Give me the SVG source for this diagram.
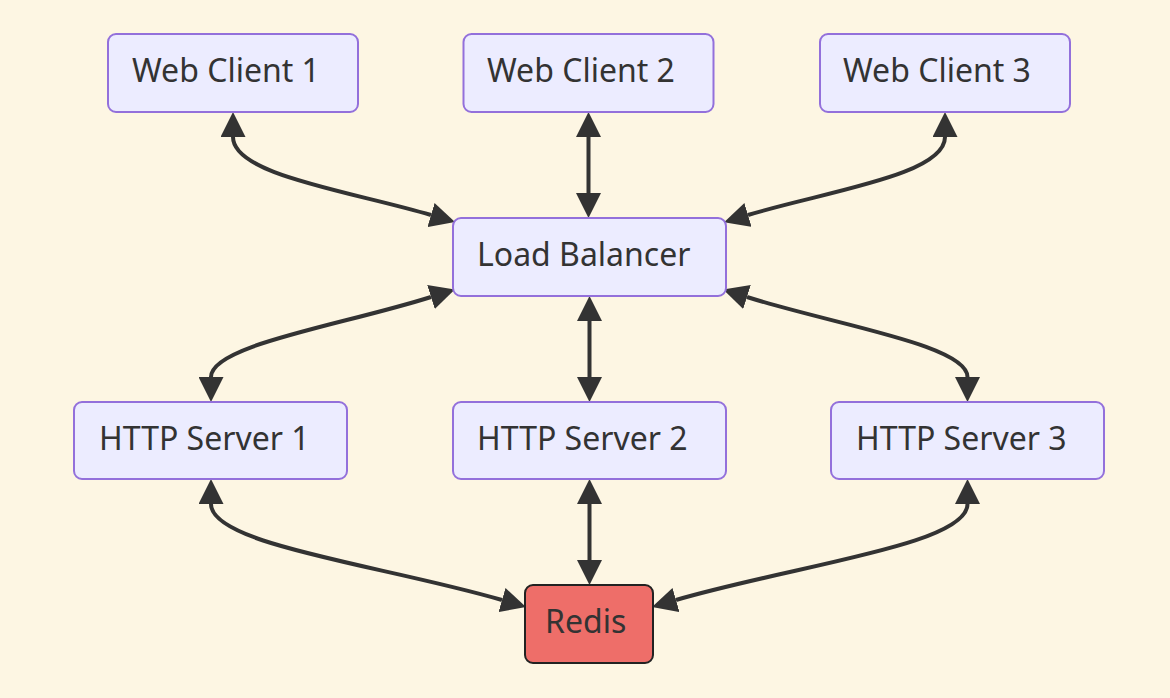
<svg xmlns="http://www.w3.org/2000/svg" width="1170" height="698" viewBox="0 0 1170 698">
<style>
.node rect{fill:#ECECFF;stroke:#9370DB;stroke-width:2}
.node.redis rect{fill:#EE6E69;stroke:#222;stroke-width:2}
.node text{font-family:"Noto Sans","Liberation Sans",sans-serif;font-size:32px;fill:#333}
.edge{fill:none;stroke:#333;stroke-width:4;marker-start:url(#ah);marker-end:url(#ah)}
</style>
<defs>
<marker id="ah" viewBox="0 0 10 10" refX="0" refY="5" markerWidth="25" markerHeight="25" markerUnits="userSpaceOnUse" orient="auto-start-reverse">
<path d="M0,0 L10,5 L0,10 z" fill="#333"/>
</marker>
</defs>
<rect x="0" y="0" width="1170" height="698" fill="#FDF6E3"/>
<g id="connectors">
<path class="edge" d="M233,137 C233,175 350,191 431,215"/>
<path class="edge" d="M588.5,137 L588.5,193"/>
<path class="edge" d="M945,137 C945,175 828,191 748,215"/>
<path class="edge" d="M211,377 C211,345 343,325 431,297"/>
<path class="edge" d="M589.5,321 L589.5,377"/>
<path class="edge" d="M967.5,377 C967.5,345 835,325 747,297"/>
<path class="edge" d="M211,504 C211,545 382,565 502,600"/>
<path class="edge" d="M589.5,504 L589.5,560"/>
<path class="edge" d="M967.5,504 C967.5,545 796,565 676,600"/>
</g>
<g id="web-client-1" class="node"><rect x="108" y="34" width="250" height="78" rx="8"/><text x="132" y="82">Web Client 1</text></g>
<g id="web-client-2" class="node"><rect x="463.5" y="34" width="250" height="78" rx="8"/><text x="487" y="82">Web Client 2</text></g>
<g id="web-client-3" class="node"><rect x="820" y="34" width="250" height="78" rx="8"/><text x="843" y="82">Web Client 3</text></g>
<g id="load-balancer" class="node"><rect x="453" y="218" width="273" height="78" rx="8"/><text x="477" y="266">Load Balancer</text></g>
<g id="http-server-1" class="node"><rect x="74" y="402" width="273" height="77" rx="8"/><text x="99" y="450">HTTP Server 1</text></g>
<g id="http-server-2" class="node"><rect x="453" y="402" width="273" height="77" rx="8"/><text x="477" y="450">HTTP Server 2</text></g>
<g id="http-server-3" class="node"><rect x="831" y="402" width="273" height="77" rx="8"/><text x="856" y="450">HTTP Server 3</text></g>
<g id="redis" class="node redis"><rect x="525" y="585" width="128" height="78" rx="8"/><text x="545" y="633">Redis</text></g>
</svg>
